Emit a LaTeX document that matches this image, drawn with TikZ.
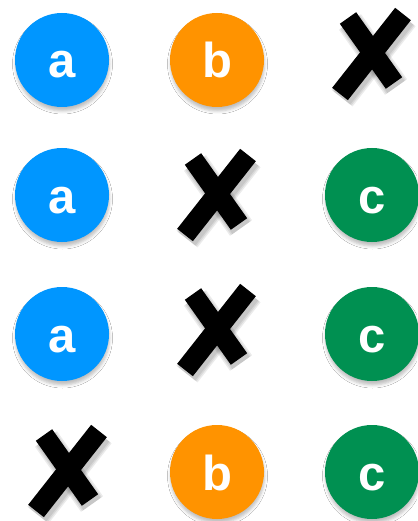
\documentclass[tikz,border=0pt]{standalone}
\usepackage{fontspec}
\setmainfont{Liberation Sans}
\usetikzlibrary{shadows.blur}
\definecolor{tokblue}{HTML}{0096FF}
\definecolor{tokorange}{HTML}{FF9300}
\definecolor{tokgreen}{HTML}{009051}
\tikzset{
  token/.style={circle,minimum size=94pt,inner sep=0pt,text=white,
    font=\fontsize{49}{50}\selectfont\bfseries,text height=36pt,text depth=0pt,
    blur shadow={shadow xshift=0.5pt,shadow yshift=-4pt,shadow blur radius=3pt,shadow opacity=25}},
  tokena/.style={token,fill=tokblue},
  tokenb/.style={token,fill=tokorange},
  tokenc/.style={token,fill=tokgreen},
  stroke/.style={line width=20pt,line cap=butt,draw=black},
  strokeshade/.style={line cap=butt,draw=black,opacity=0.08},
  miss/.pic={
    % soft shadow
    \foreach \w in {27,24,21}{
      \draw[strokeshade,line width=\w pt] (-22,-33) -- (24,32);
      \draw[strokeshade,line width=\w pt] (33,-37) -- (-30,43);
    }
    \draw[stroke] (-24,-37) -- (22,28);
    \draw[stroke] (31,-41) -- (-32,39);
  }
}
\begin{document}
\begin{tikzpicture}[x=1pt,y=-1pt]
  \useasboundingbox[fill=white] (0,0) rectangle (417,521);

  \node[tokena] (a1) at (62,60) {a};
  \node[tokenb] (b1) at (217,60) {b};
  \pic (x1) at (372,55) {miss};

  \node[tokena] (a2) at (62,195) {a};
  \pic (x2) at (217,196) {miss};
  \node[tokenc] (c2) at (372,195) {c};

  \node[tokena] (a3) at (62,334) {a};
  \pic (x3) at (217,331) {miss};
  \node[tokenc] (c3) at (372,334) {c};

  \pic (x4) at (68,472) {miss};
  \node[tokenb] (b4) at (217,472) {b};
  \node[tokenc] (c4) at (372,472) {c};
\end{tikzpicture}
\end{document}
